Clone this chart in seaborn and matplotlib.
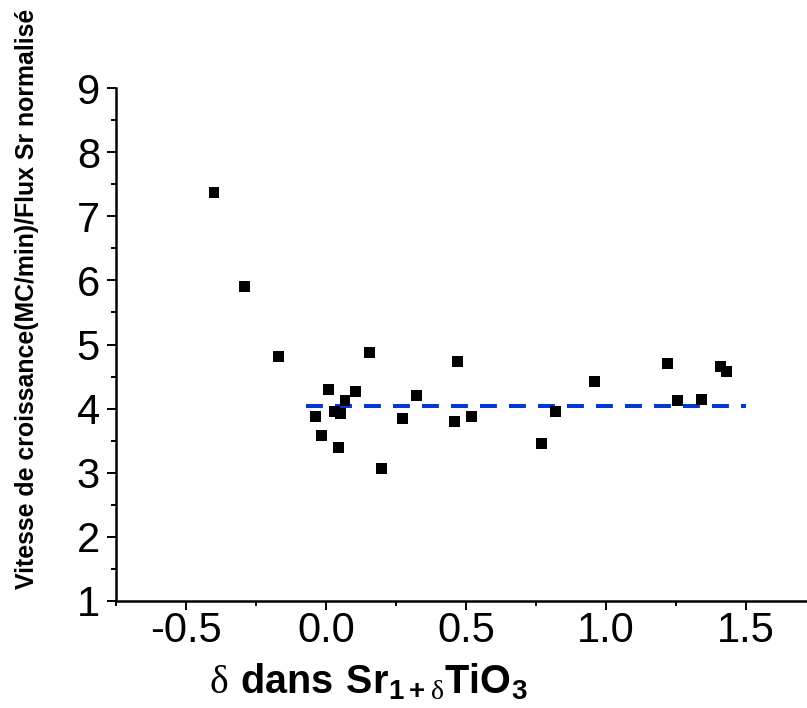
import numpy as np
import pandas as pd
import seaborn as sns
import matplotlib.pyplot as plt
from matplotlib.ticker import MultipleLocator

# ============ data ============
delta = [-0.40, -0.29, -0.171, 0.157, 0.469, 0.008, 0.106, 0.068, 0.324,
         -0.039, 0.029, 0.052, 0.273, 0.458, 0.519, -0.015, 0.044, 0.199,
         0.769, 0.819, 0.959, 1.219, 1.257, 1.340, 1.409, 1.430]
rate = [7.37, 5.91, 4.81, 4.88, 4.73, 4.30, 4.27, 4.12, 4.21,
        3.88, 3.95, 3.93, 3.85, 3.80, 3.87, 3.58, 3.39, 3.06,
        3.45, 3.95, 4.43, 4.70, 4.12, 4.14, 4.65, 4.58]

mean_x = [-0.07, 1.50]
mean_y = [4.04, 4.04]

df = pd.DataFrame({'delta': delta, 'rate': rate})

sns.set_style("ticks")
plt.rcParams['font.family'] = ['Liberation Sans', 'DejaVu Sans']
plt.rcParams['axes.unicode_minus'] = False
plt.rcParams['mathtext.fontset'] = 'custom'
plt.rcParams['mathtext.rm'] = 'Liberation Serif'
plt.rcParams['mathtext.bf'] = 'Liberation Sans:bold'
for k in ['text.color', 'axes.edgecolor', 'axes.labelcolor', 'xtick.color', 'ytick.color']:
    plt.rcParams[k] = 'black'

fig = plt.figure(figsize=(8.07, 7.08), dpi=100)
ax = fig.add_axes([116 / 807, 1 - 601 / 708, 691 / 807, 513 / 708])

sns.scatterplot(data=df, x='delta', y='rate', marker='s', color='black',
                s=62, edgecolor='none', ax=ax, zorder=3)
ax.plot(mean_x, mean_y, color='#0536d6', lw=2.9, dashes=(4.2, 3.0), zorder=2)

ax.set_xlim(-0.75, 1.718)
ax.set_ylim(1, 9)
ax.xaxis.set_major_locator(MultipleLocator(0.5))
ax.xaxis.set_minor_locator(MultipleLocator(0.25))
ax.yaxis.set_major_locator(MultipleLocator(1))
ax.yaxis.set_minor_locator(MultipleLocator(0.5))

sns.despine(ax=ax)
for s in ['left', 'bottom']:
    ax.spines[s].set_linewidth(1.8)
ax.tick_params(which='major', length=6.5, width=1.4, labelsize=30, color='black')
ax.tick_params(which='minor', length=3.6, width=1.4, color='black')
ax.tick_params(axis='x', which='major', pad=1)
ax.tick_params(axis='y', which='major', pad=5)
ax.set_xlabel('')
ax.set_ylabel('')

fig.text(27 / 807, 1 - 299 / 708, 'Vitesse de croissance(MC/min)/Flux Sr normalisé',
         rotation=90, fontsize=17.9, fontweight='bold', ha='center', va='center')
fig.text(368 / 807, 1 - 693 / 708,
         r'$\mathrm{\delta}\ \mathbf{dans\ Sr}_{\mathbf{1+}\mathrm{\delta}}\mathbf{TiO}_{\mathbf{3}}$',
         fontsize=28.5, ha='center', va='baseline')

fig.savefig('out.png', dpi=100)
